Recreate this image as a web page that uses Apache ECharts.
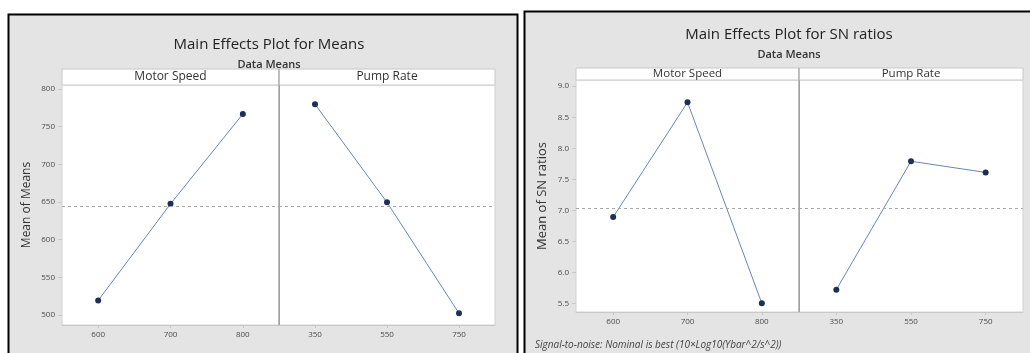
<!DOCTYPE html>
<html>
<head>
<meta charset="utf-8">
<style>
  html, body { margin: 0; padding: 0; background: #ffffff; }
  #chart { width: 1030px; height: 353px; }
</style>
<script src="https://cdn.jsdelivr.net/npm/echarts@6/dist/echarts.min.js"></script>
</head>
<body>
<div id="chart"></div>
<script>
// Factor levels
const motorSpeedLevels = ['600', '700', '800'];
const pumpRateLevels = ['350', '550', '750'];

// Means of the response at each factor level
const meansMotorSpeed = [519.5, 647.5, 766.5];
const meansPumpRate = [779.5, 649.5, 502.5];

// Mean S/N ratio at each factor level
const snMotorSpeed = [6.89, 8.74, 5.50];
const snPumpRate = [5.72, 7.79, 7.61];

// Tick labels of the two value axes
const meansTicks = [500, 550, 600, 650, 700, 750, 800];
const snTicks = [5.5, 6.0, 6.5, 7.0, 7.5, 8.0, 8.5, 9.0];

const FONT = '"Open Sans", "Noto Sans", sans-serif';
const avg = a => a.reduce((s, v) => s + v, 0) / a.length;
const meansGrand = avg(meansMotorSpeed.concat(meansPumpRate));
const snGrand = avg(snMotorSpeed.concat(snPumpRate));

const panels = [
  { grid: { left: 62, top: 85, width: 217, height: 240 }, cats: motorSpeedLevels, data: meansMotorSpeed, min: 487, max: 805, ticks: meansTicks, first: true, name: 'Mean of Means', nameSize: 12, nameGap: 29, grand: meansGrand, fmt: v => String(v) },
  { grid: { left: 279, top: 85, width: 216, height: 240 }, cats: pumpRateLevels, data: meansPumpRate, min: 487, max: 805, ticks: meansTicks, first: false, grand: meansGrand },
  { grid: { left: 576, top: 80, width: 223, height: 232 }, cats: motorSpeedLevels, data: snMotorSpeed, min: 5.36, max: 9.1, ticks: snTicks, first: true, name: 'Mean of SN ratios', nameSize: 13, nameGap: 27, grand: snGrand, fmt: v => Number(v).toFixed(1) },
  { grid: { left: 799, top: 80, width: 224, height: 232 }, cats: pumpRateLevels, data: snPumpRate, min: 5.36, max: 9.1, ticks: snTicks, first: false, grand: snGrand }
];

const grids = [], xAxes = [], yAxes = [], series = [];
panels.forEach((p, i) => {
  grids.push(Object.assign({
    show: true, backgroundColor: '#ffffff', borderColor: '#d2d2d2', borderWidth: 1,
    outerBoundsMode: 'none', containLabel: false
  }, p.grid));
  xAxes.push({
    type: 'category', gridIndex: i, data: p.cats, boundaryGap: true,
    axisLine: { show: true, lineStyle: { color: '#c8c8c8' } },
    axisTick: { show: true, alignWithLabel: true, length: 3, lineStyle: { color: '#c8c8c8' } },
    axisLabel: { color: '#4a4a4a', fontSize: 8, fontFamily: FONT, margin: 6 }
  });
  yAxes.push({
    type: 'value', gridIndex: i, min: p.min, max: p.max,
    name: p.first ? p.name : '', nameLocation: 'middle', nameGap: p.nameGap || 30,
    nameTextStyle: { color: '#333', fontSize: p.nameSize || 12, fontFamily: FONT },
    axisLine: { show: !p.first, lineStyle: { color: '#a0a0a0' } },
    axisTick: { show: p.first, length: 4, customValues: p.ticks, lineStyle: { color: '#c8c8c8' } },
    axisLabel: { show: p.first, customValues: p.ticks, color: '#4a4a4a', fontSize: 8, fontFamily: FONT, margin: 7, formatter: p.fmt },
    splitLine: { show: false }
  });
  series.push({
    type: 'line', xAxisIndex: i, yAxisIndex: i, data: p.data,
    symbol: 'circle', symbolSize: 6,
    lineStyle: { color: '#6a86b8', width: 1 },
    itemStyle: { color: '#1c2f55' },
    animation: false,
    markLine: {
      silent: true, symbol: 'none', label: { show: false },
      lineStyle: { color: '#a8a8a8', type: [3, 3], width: 1 },
      data: [{ yAxis: p.grand }]
    }
  });
});

function strip(x, y, w, h, text, size) {
  return [
    { type: 'rect', shape: { x: x, y: y, width: w, height: h }, style: { fill: '#ffffff', stroke: '#c8c8c8', lineWidth: 1 }, z: 10 },
    { type: 'text', x: x + w / 2, y: y + h / 2, style: { text: text, fill: '#333', font: size + 'px ' + FONT, textAlign: 'center', textVerticalAlign: 'middle' }, z: 11 }
  ];
}

const graphics = [
  // Frames of the two plot windows
  { type: 'rect', shape: { x: 8.5, y: 14.5, width: 509, height: 345 }, style: { fill: '#e4e4e4', stroke: '#000', lineWidth: 2 }, z: -10 },
  { type: 'rect', shape: { x: 524.5, y: 11.5, width: 512, height: 350 }, style: { fill: '#e4e4e4', stroke: '#000', lineWidth: 2 }, z: -10 }
].concat(
  strip(62, 69, 217, 16, 'Motor Speed', 12),
  strip(279, 69, 216, 16, 'Pump Rate', 12),
  strip(576, 68, 223, 12, 'Motor Speed', 11.5),
  strip(799, 68, 224, 12, 'Pump Rate', 11.5),
  [
    { type: 'line', shape: { x1: 279, y1: 69, x2: 279, y2: 325 }, style: { stroke: '#a0a0a0', lineWidth: 1 }, z: 12 },
    { type: 'line', shape: { x1: 799, y1: 68, x2: 799, y2: 312 }, style: { stroke: '#a0a0a0', lineWidth: 1 }, z: 12 }
  ]
);

const chart = echarts.init(document.getElementById('chart'), null, { renderer: 'canvas' });
chart.setOption({
  animation: false,
  backgroundColor: 'transparent',
  title: [
    { text: 'Main Effects Plot for Means', left: 264, top: 32, textAlign: 'center',
      textStyle: { fontSize: 15, fontWeight: 'normal', color: '#222', fontFamily: FONT } },
    { text: 'Data Means', left: 264, top: 54, textAlign: 'center',
      textStyle: { fontSize: 11, fontWeight: 600, color: '#333', fontFamily: FONT } },
    { text: 'Main Effects Plot for SN ratios', left: 784, top: 22, textAlign: 'center',
      textStyle: { fontSize: 15, fontWeight: 'normal', color: '#222', fontFamily: FONT } },
    { text: 'Data Means', left: 784, top: 44, textAlign: 'center',
      textStyle: { fontSize: 11, fontWeight: 600, color: '#333', fontFamily: FONT } },
    { text: 'Signal-to-noise: Nominal is best (10×Log10(Ybar^2/s^2))', left: 530, top: 335,
      textStyle: { fontSize: 10, fontStyle: 'italic', fontWeight: 'normal', color: '#444', fontFamily: FONT } }
  ],
  grid: grids,
  xAxis: xAxes,
  yAxis: yAxes,
  series: series,
  graphic: graphics
});
</script>
</body>
</html>
